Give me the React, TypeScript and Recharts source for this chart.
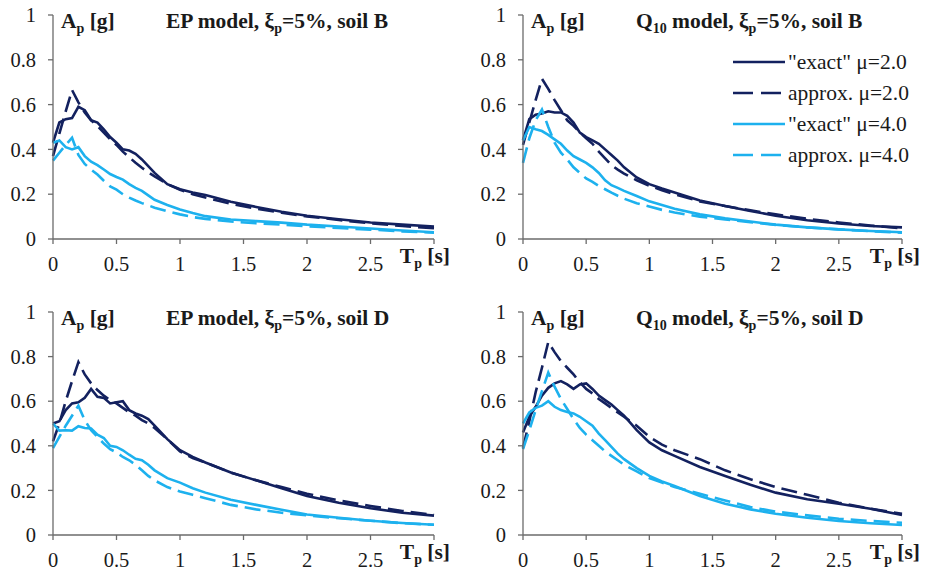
import React from 'react'
import { LineChart, Line, XAxis, YAxis } from 'recharts'

// periods T [s] shared by every curve
const PERIODS = [0, 0.05, 0.1, 0.15, 0.2, 0.25, 0.3, 0.35, 0.4, 0.45, 0.5, 0.55, 0.6, 0.65, 0.7, 0.75, 0.8, 0.9, 1.0, 1.1, 1.2, 1.4, 1.6, 1.8, 2.0, 2.25, 2.5, 2.75, 3.0]
const X_TICKS = [0, 0.5, 1, 1.5, 2, 2.5, 3]
const Y_TICKS = [0, 0.2, 0.4, 0.6, 0.8, 1]

// EP model, soil B
const EP_B_EXACT2 = [0.43, 0.52, 0.535, 0.54, 0.59, 0.575, 0.53, 0.52, 0.49, 0.455, 0.43, 0.40, 0.395, 0.38, 0.355, 0.325, 0.295, 0.245, 0.222, 0.208, 0.196, 0.166, 0.143, 0.122, 0.104, 0.088, 0.074, 0.064, 0.056]
const EP_B_APPROX2 = [0.37, 0.47, 0.57, 0.665, 0.61, 0.565, 0.53, 0.505, 0.475, 0.445, 0.42, 0.39, 0.365, 0.34, 0.318, 0.298, 0.28, 0.245, 0.22, 0.2, 0.185, 0.157, 0.135, 0.117, 0.101, 0.085, 0.07, 0.058, 0.048]
const EP_B_EXACT4 = [0.43, 0.44, 0.41, 0.40, 0.41, 0.37, 0.345, 0.33, 0.31, 0.29, 0.277, 0.265, 0.245, 0.228, 0.215, 0.195, 0.175, 0.152, 0.132, 0.116, 0.102, 0.087, 0.08, 0.073, 0.064, 0.056, 0.047, 0.038, 0.03]
const EP_B_APPROX4 = [0.35, 0.385, 0.42, 0.452, 0.375, 0.335, 0.31, 0.288, 0.26, 0.235, 0.22, 0.2, 0.185, 0.172, 0.16, 0.15, 0.14, 0.124, 0.11, 0.098, 0.09, 0.078, 0.07, 0.064, 0.057, 0.049, 0.042, 0.034, 0.028]

// Q10 model, soil B
const Q10_B_EXACT2 = [0.44, 0.535, 0.555, 0.56, 0.57, 0.565, 0.565, 0.55, 0.52, 0.475, 0.455, 0.44, 0.425, 0.4, 0.375, 0.35, 0.32, 0.275, 0.245, 0.225, 0.208, 0.172, 0.147, 0.125, 0.104, 0.084, 0.069, 0.058, 0.052]
const Q10_B_APPROX2 = [0.42, 0.52, 0.62, 0.715, 0.67, 0.62, 0.575, 0.53, 0.505, 0.475, 0.45, 0.425, 0.39, 0.36, 0.33, 0.31, 0.292, 0.262, 0.238, 0.218, 0.2, 0.168, 0.147, 0.128, 0.11, 0.09, 0.074, 0.06, 0.048]
const Q10_B_EXACT4 = [0.44, 0.5, 0.49, 0.482, 0.465, 0.445, 0.425, 0.395, 0.37, 0.355, 0.34, 0.32, 0.295, 0.262, 0.24, 0.228, 0.215, 0.192, 0.168, 0.152, 0.135, 0.11, 0.092, 0.078, 0.064, 0.052, 0.043, 0.036, 0.03]
const Q10_B_APPROX4 = [0.34, 0.45, 0.53, 0.578, 0.5, 0.43, 0.385, 0.355, 0.32, 0.295, 0.27, 0.255, 0.237, 0.222, 0.207, 0.193, 0.18, 0.16, 0.145, 0.13, 0.118, 0.1, 0.087, 0.075, 0.063, 0.052, 0.043, 0.035, 0.028]

// EP model, soil D
const EP_D_EXACT2 = [0.5, 0.51, 0.56, 0.59, 0.595, 0.615, 0.655, 0.62, 0.615, 0.59, 0.595, 0.6, 0.56, 0.545, 0.535, 0.52, 0.49, 0.43, 0.38, 0.35, 0.325, 0.28, 0.245, 0.21, 0.175, 0.145, 0.12, 0.1, 0.087]
const EP_D_APPROX2 = [0.42, 0.5, 0.6, 0.69, 0.775, 0.72, 0.68, 0.65, 0.625, 0.605, 0.59, 0.57, 0.55, 0.535, 0.515, 0.5, 0.48, 0.43, 0.375, 0.345, 0.325, 0.28, 0.245, 0.215, 0.185, 0.155, 0.13, 0.108, 0.09]
const EP_D_EXACT4 = [0.5, 0.468, 0.47, 0.468, 0.488, 0.48, 0.478, 0.45, 0.435, 0.4, 0.395, 0.38, 0.36, 0.342, 0.335, 0.315, 0.29, 0.255, 0.235, 0.21, 0.19, 0.158, 0.135, 0.113, 0.092, 0.077, 0.064, 0.054, 0.046]
const EP_D_APPROX4 = [0.39, 0.44, 0.49, 0.535, 0.58, 0.515, 0.47, 0.44, 0.41, 0.385, 0.37, 0.35, 0.335, 0.315, 0.29, 0.265, 0.245, 0.215, 0.195, 0.18, 0.165, 0.135, 0.115, 0.1, 0.088, 0.075, 0.064, 0.053, 0.046]

// Q10 model, soil D
const Q10_D_EXACT2 = [0.46, 0.53, 0.575, 0.625, 0.66, 0.68, 0.69, 0.675, 0.655, 0.675, 0.68, 0.655, 0.625, 0.605, 0.585, 0.56, 0.535, 0.47, 0.415, 0.38, 0.355, 0.305, 0.265, 0.225, 0.19, 0.16, 0.14, 0.118, 0.09]
const Q10_D_APPROX2 = [0.39, 0.51, 0.64, 0.75, 0.865, 0.82, 0.78, 0.75, 0.72, 0.685, 0.655, 0.635, 0.61, 0.59, 0.57, 0.55, 0.53, 0.49, 0.44, 0.405, 0.38, 0.34, 0.29, 0.25, 0.215, 0.18, 0.145, 0.118, 0.095]
const Q10_D_EXACT4 = [0.5, 0.55, 0.57, 0.58, 0.6, 0.575, 0.56, 0.552, 0.545, 0.53, 0.51, 0.49, 0.455, 0.425, 0.395, 0.365, 0.34, 0.3, 0.265, 0.24, 0.22, 0.175, 0.14, 0.115, 0.095, 0.077, 0.063, 0.053, 0.045]
const Q10_D_APPROX4 = [0.385, 0.47, 0.56, 0.645, 0.728, 0.665, 0.61, 0.565, 0.52, 0.48, 0.45, 0.425, 0.4, 0.375, 0.355, 0.335, 0.315, 0.285, 0.255, 0.235, 0.215, 0.185, 0.155, 0.125, 0.105, 0.088, 0.073, 0.063, 0.055]

const DARK = '#13215f'
const LIGHT = '#1db1ee'
const DASH = '16 7'
const FONT = '"Liberation Serif", "Times New Roman", serif'
const AXIS = '#6b6b6b'

const SERIES = [
  { key: 'e2', name: '"exact" \u03bc=2.0', color: DARK, dash: undefined },
  { key: 'a2', name: 'approx. \u03bc=2.0', color: DARK, dash: DASH },
  { key: 'e4', name: '"exact" \u03bc=4.0', color: LIGHT, dash: undefined },
  { key: 'a4', name: 'approx. \u03bc=4.0', color: LIGHT, dash: DASH },
]

type Panel = {
  model: 'EP' | 'Q10'
  soil: string
  curves: number[][]
  left: number
  top: number
  height: number
  margin: { top: number; right: number; left: number; bottom: number }
}

const PANELS: Panel[] = [
  { model: 'EP', soil: 'B', curves: [EP_B_EXACT2, EP_B_APPROX2, EP_B_EXACT4, EP_B_APPROX4], left: 0, top: 0, height: 286, margin: { top: 15, right: 29, left: 13, bottom: 17 } },
  { model: 'Q10', soil: 'B', curves: [Q10_B_EXACT2, Q10_B_APPROX2, Q10_B_EXACT4, Q10_B_APPROX4], left: 463, top: 0, height: 286, margin: { top: 15, right: 24, left: 20, bottom: 17 } },
  { model: 'EP', soil: 'D', curves: [EP_D_EXACT2, EP_D_APPROX2, EP_D_EXACT4, EP_D_APPROX4], left: 0, top: 286, height: 287, margin: { top: 26, right: 29, left: 13, bottom: 8 } },
  { model: 'Q10', soil: 'D', curves: [Q10_D_EXACT2, Q10_D_APPROX2, Q10_D_EXACT4, Q10_D_APPROX4], left: 463, top: 286, height: 287, margin: { top: 26, right: 24, left: 20, bottom: 8 } },
]

const tickStyle = { fontSize: 20.5, fill: '#1a1a1a', fontFamily: FONT }
const fmt = (v: number) => (v === 3 ? '' : String(v))

function Sub({ children }: { children: string }) {
  return <tspan fontSize={14} dy={5}>{children}</tspan>
}

function PanelText({ p }: { p: Panel }) {
  const axisLeft = p.margin.left + 40
  const plotTop = p.margin.top
  const plotBottom = p.height - p.margin.bottom - 30
  const yLab = plotTop + 13
  return (
    <svg width={463} height={p.height} style={{ position: 'absolute', left: 0, top: 0, pointerEvents: 'none' }}>
      <g fontFamily={FONT} fontWeight="bold" fill="#1a1a1a">
        <text x={axisLeft + 8} y={yLab} fontSize={21.5}>
          A<Sub>p</Sub><tspan dy={-5}> [g]</tspan>
        </text>
        <text x={p.model === 'EP' ? 166 : 173} y={yLab} fontSize={21.5}>
          {p.model === 'EP' ? 'EP' : 'Q'}
          {p.model === 'Q10' && <Sub>10</Sub>}
          <tspan dy={p.model === 'Q10' ? -5 : 0}> model, {'\u03be'}</tspan>
          <Sub>p</Sub>
          <tspan dy={-5}>=5%, soil {p.soil}</tspan>
        </text>
        <text x={p.model === 'EP' ? 450 : 457} y={plotBottom + 24} fontSize={21.5} textAnchor="end">
          T<Sub>p</Sub><tspan dy={-5}> [s]</tspan>
        </text>
      </g>
    </svg>
  )
}

function LegendBox() {
  return (
    <svg width={200} height={130} style={{ position: 'absolute', left: 270, top: 46, pointerEvents: 'none' }}>
      {SERIES.map((s, i) => {
        const y = 16 + i * 31
        return (
          <g key={s.key}>
            <line x1={0} x2={52} y1={y} y2={y} stroke={s.color} strokeWidth={2.6} strokeDasharray={s.dash ? '20 8' : undefined} />
            <text x={55} y={y + 7} fontSize={21.5} fontFamily={FONT} fill="#1a1a1a">{s.name}</text>
          </g>
        )
      })}
    </svg>
  )
}

function PanelChart({ p, withLegend }: { p: Panel; withLegend: boolean }) {
  const data = PERIODS.map((t, i) => ({
    t,
    e2: p.curves[0][i],
    a2: p.curves[1][i],
    e4: p.curves[2][i],
    a4: p.curves[3][i],
  }))
  return (
    <div style={{ position: 'absolute', left: p.left, top: p.top, width: 463, height: p.height }}>
      <LineChart width={463} height={p.height} data={data} margin={p.margin}>
        <XAxis
          dataKey="t"
          type="number"
          domain={[0, 3]}
          ticks={X_TICKS}
          tickFormatter={fmt}
          height={30}
          tick={tickStyle}
          tickSize={5}
          tickMargin={12}
          stroke={AXIS}
          strokeWidth={1.3}
          interval={0}
        />
        <YAxis
          type="number"
          domain={[0, 1]}
          ticks={Y_TICKS}
          width={40}
          tick={tickStyle}
          tickSize={5}
          tickMargin={12}
          stroke={AXIS}
          strokeWidth={1.3}
          interval={0}
        />
        {SERIES.map((s) => (
          <Line
            key={s.key}
            dataKey={s.key}
            type="linear"
            stroke={s.color}
            strokeWidth={2.6}
            strokeDasharray={s.dash}
            dot={false}
            isAnimationActive={false}
          />
        ))}
      </LineChart>
      <PanelText p={p} />
      {withLegend && <LegendBox />}
    </div>
  )
}

export default function App() {
  return (
    <div style={{ position: 'absolute', left: 0, top: 0, width: 926, height: 573, background: '#fff', overflow: 'hidden' }}>
      {PANELS.map((p, i) => (
        <PanelChart key={i} p={p} withLegend={i === 1} />
      ))}
    </div>
  )
}
